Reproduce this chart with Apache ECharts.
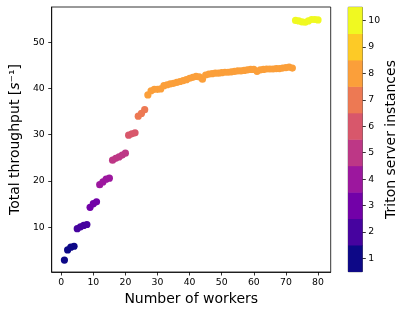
<!DOCTYPE html>
<html>
<head>
<meta charset="utf-8">
<script src="https://cdn.jsdelivr.net/npm/echarts@6/dist/echarts.min.js"></script>
<style>html,body{margin:0;padding:0;background:#fff;}#c{width:407px;height:314px;}</style>
</head>
<body>
<div id="c"></div>
<script>
var workers = [1,2,3,4,5,6,7,8,9,10,11,12,13,14,15,16,17,18,19,20,
  21,22,23,24,25,26,27,28,29,30,31,32,33,34,35,36,37,38,39,40,
  41,42,43,44,45,46,47,48,49,50,51,52,53,54,55,56,57,58,59,60,
  61,62,63,64,65,66,67,68,69,70,71,72,73,74,75,76,77,78,79,80];
var instances = [1, 1,1,1, 2,2,2,2, 3,3,3, 4,4,4,4, 5,5,5,5,5, 6,6,6, 7,7,7,
  8,8,8,8,8,8,8,8,8,8, 8,8,8,8,8,8,8,8,8,8, 8,8,8,8,8,8,8,8,8,8,
  8,8,8,8,8,8,8,8,8,8, 8,8,8,8,8,8,
  10,10,10,10,10,10,10,10];
var throughput = [2.9, 5.1,5.7,5.9, 9.7,10.1,10.4,10.6, 14.3,15.1,15.5,
  19.2,19.8,20.4,20.6, 24.5,24.9,25.2,25.6,26.0, 29.9,30.2,30.4, 34.0,34.6,35.4,
  38.6,39.5,39.8,39.8,39.9,40.6,40.8,41.0,41.1,41.3,
  41.5,41.7,41.9,42.2,42.4,42.6,42.5,42.0,42.9,43.1,
  43.2,43.3,43.3,43.4,43.5,43.5,43.6,43.7,43.8,43.8,
  43.9,44.0,44.1,44.1,43.7,44.0,44.1,44.2,44.2,44.2,
  44.3,44.3,44.4,44.5,44.6,44.4,
  54.7,54.6,54.4,54.3,54.6,54.9,54.9,54.8];
var xTicks = [0,10,20,30,40,50,60,70,80];
var yTicks = [10,20,30,40,50];
var levels = ['1','2','3','4','5','6','7','8','9','10'];
var palette = ['#0d0887','#46039f','#7201a8','#9c179e','#bd3786','#d8576b','#ed7953','#fb9f3a','#fdca26','#f0f921'];

var pts = workers.map(function(w,i){ return [w, throughput[i], instances[i]]; });
var cbData = levels.map(function(l,i){ return [0, i, i+1]; });
var FF = 'DejaVu Sans';

var chart = echarts.init(document.getElementById('c'), null, {renderer:'canvas'});
chart.setOption({
  animation:false,
  backgroundColor:'#fff',
  textStyle:{fontFamily:FF},
  grid:[
    {left:47, top:7, right:76.3, bottom:42, show:true, borderColor:'#000', borderWidth:0.8, backgroundColor:'transparent'},
    {left:348.3, top:7.3, right:44.7, bottom:42.3, show:true, borderColor:'#000', borderWidth:0.8, backgroundColor:'transparent'}
  ],
  visualMap:{
    type:'piecewise', show:false, dimension:2, seriesIndex:[0,1],
    pieces: palette.map(function(c,i){ return {value:i+1, color:c}; })
  },
  xAxis:[
    {gridIndex:0, type:'value', min:-2.95, max:83.95,
     axisLine:{show:true, onZero:false, lineStyle:{color:'#000', width:0.8}},
     axisTick:{show:true, inside:false, length:3.5, customValues:xTicks, lineStyle:{color:'#000', width:0.8}},
     axisLabel:{customValues:xTicks, fontSize:9.3, color:'#000', margin:6, fontFamily:FF},
     splitLine:{show:false},
     name:'Number of workers', nameLocation:'middle', nameGap:18,
     nameTextStyle:{fontSize:14, color:'#000', fontFamily:FF}},
    {gridIndex:1, type:'category', data:[''], show:false}
  ],
  yAxis:[
    {gridIndex:0, type:'value', min:0.33, max:57.6,
     axisLine:{show:true, onZero:false, lineStyle:{color:'#000', width:0.8}},
     axisTick:{show:true, inside:false, length:3.5, customValues:yTicks, lineStyle:{color:'#000', width:0.8}},
     axisLabel:{customValues:yTicks, fontSize:9.3, color:'#000', margin:7, fontFamily:FF},
     splitLine:{show:false},
     name:'{a|Total throughput [}{b|s}{a|⁻¹]}', nameLocation:'middle', nameGap:24, nameRotate:90,
     nameTextStyle:{fontSize:14, color:'#000', fontFamily:FF,
       rich:{a:{fontSize:14, color:'#000', fontFamily:FF}, b:{fontSize:14, color:'#000', fontStyle:'italic', fontFamily:FF}}}},
    {gridIndex:1, type:'category', data:levels, position:'right',
     axisLine:{show:false},
     axisTick:{show:true, inside:false, length:3.5, alignWithLabel:true, lineStyle:{color:'#000', width:0.8}},
     axisLabel:{fontSize:9.3, color:'#000', margin:6, fontFamily:FF},
     splitLine:{show:false},
     name:'Triton server instances', nameLocation:'middle', nameGap:22, nameRotate:90,
     nameTextStyle:{fontSize:14, color:'#000', fontFamily:FF}}
  ],
  series:[
    {type:'scatter', xAxisIndex:0, yAxisIndex:0, data:pts, symbolSize:7.2, itemStyle:{opacity:1}},
    {type:'heatmap', xAxisIndex:1, yAxisIndex:1, data:cbData, itemStyle:{borderWidth:0}}
  ]
});
</script>
</body>
</html>
